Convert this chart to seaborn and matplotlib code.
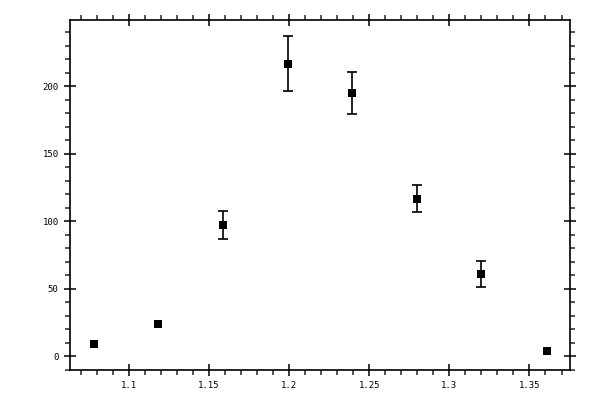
import numpy as np
import pandas as pd
import matplotlib
matplotlib.use('Agg')
import matplotlib.pyplot as plt
from matplotlib.ticker import MultipleLocator, FormatStrFormatter
import seaborn as sns

# ---- data ----
x_vals = [1.078, 1.118, 1.159, 1.199, 1.239, 1.280, 1.320, 1.361]
y_vals = [9.0, 24.2, 97.5, 216.8, 195.3, 116.8, 61.3, 3.8]
y_err = [0.0, 1.5, 10.3, 20.3, 15.4, 10.0, 9.6, 0.0]

df = pd.DataFrame({'x': x_vals, 'y': y_vals, 'err': y_err})

sns.set_style('white')
plt.rcParams['font.family'] = ['DejaVu Sans Mono', 'DejaVu Sans']

fig = plt.figure(figsize=(6, 4), dpi=100)
ax = fig.add_axes([0.116, 0.075, 0.834, 0.876])

# error bars: capped where visible, tiny ones just thicken the marker
big = df[df['err'] > 5]
small = df[(df['err'] > 0) & (df['err'] <= 5)]
ax.errorbar(big['x'], big['y'], yerr=big['err'], fmt='none', ecolor='black',
            elinewidth=1.2, capsize=3.5, capthick=1.2, zorder=2)
ax.errorbar(small['x'], small['y'], yerr=small['err'], fmt='none', ecolor='black',
            elinewidth=4.5, capsize=0, zorder=2)
sns.scatterplot(data=df, x='x', y='y', marker='s', color='black', s=34,
                edgecolor='black', linewidth=0, ax=ax, zorder=3)

ax.set_xlim(1.063, 1.3753)
ax.set_ylim(-10.1, 249.5)

ax.xaxis.set_major_locator(MultipleLocator(0.05))
ax.xaxis.set_minor_locator(MultipleLocator(0.01))
ax.yaxis.set_major_locator(MultipleLocator(50))
ax.yaxis.set_minor_locator(MultipleLocator(10))
ax.xaxis.set_major_formatter(FormatStrFormatter('%g'))
ax.yaxis.set_major_formatter(FormatStrFormatter('%g'))

ax.tick_params(which='major', direction='inout', length=8, width=1.1,
               bottom=True, left=True, top=True, right=True,
               labelsize=6.5, pad=4, colors='black')
ax.tick_params(which='minor', direction='out', length=3.5, width=1.1,
               bottom=True, left=True, top=True, right=True)

for sp in ax.spines.values():
    sp.set_visible(True)
    sp.set_color('black')
    sp.set_linewidth(1.2)

ax.set_xlabel('')
ax.set_ylabel('')

fig.savefig('out.png', dpi=100)
